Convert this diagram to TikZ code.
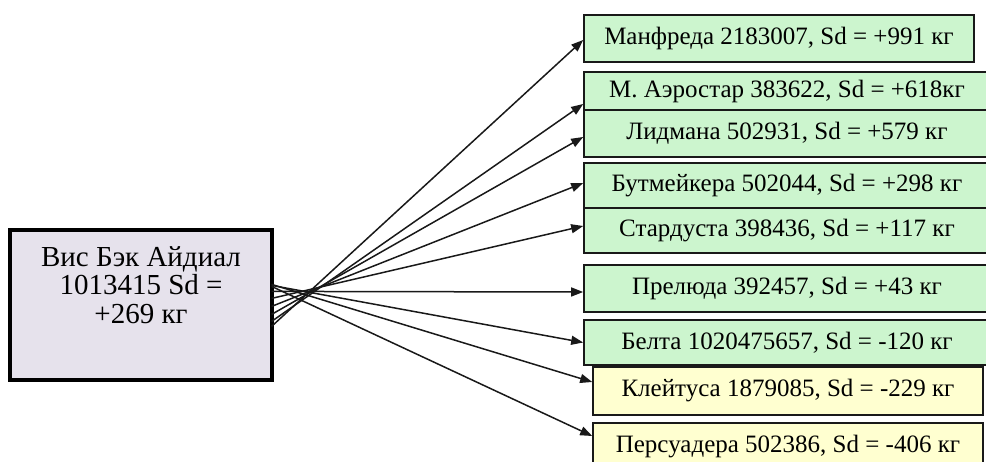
\documentclass[tikz,border=0pt]{standalone}
\usepackage{fontspec}
\setmainfont{Liberation Serif}
\usetikzlibrary{arrows.meta,calc}
\definecolor{gbox}{RGB}{204,245,206}
\definecolor{ybox}{RGB}{255,255,208}
\definecolor{lbox}{RGB}{230,226,236}
\definecolor{edge}{RGB}{25,25,25}
\tikzset{
  rbox/.style={draw=edge, line width=1.6pt, fill=gbox, inner sep=0pt, align=center,
    font=\fontsize{25}{28}\selectfont},
  ybx/.style={rbox, fill=ybox},
  conn/.style={draw=edge, line width=1.5pt, -{Triangle[length=12pt,width=9pt]}}
}
\begin{document}
\begin{tikzpicture}[x=1pt,y=-1pt]
\useasboundingbox (0,0) rectangle (986,462);
\clip (0,0) rectangle (986,462);
% left box
\node[draw=black, line width=3.2pt, fill=lbox, minimum width=262pt, minimum height=150pt, inner sep=0pt] (V) at (141,305) {};
\node[align=center, font=\fontsize{29}{28.5}\selectfont, inner sep=0pt] (Vt) at (141,285) {Вис Бэк Айдиал\\1013415 Sd =\\+269 кг};
% right boxes
\node[rbox, minimum width=390pt, minimum height=47pt] (M) at (779,38.5) {Манфреда 2183007, Sd = +991 кг};
\node[rbox, minimum width=406pt, minimum height=38pt] (A) at (787,91) {М. Аэростар 383622, Sd = +618кг};
\node[rbox, minimum width=406pt, minimum height=47pt] (L) at (787,133.5) {Лидмана 502931, Sd = +579 кг};
\node[rbox, minimum width=406pt, minimum height=45pt] (B) at (787,185.5) {Бутмейкера 502044, Sd = +298 кг};
\node[rbox, minimum width=406pt, minimum height=45pt] (S) at (787,230.5) {Стардуста 398436, Sd = +117 кг};
\node[rbox, minimum width=406pt, minimum height=47pt] (P) at (787,288.5) {Прелюда 392457, Sd = +43 кг};
\node[rbox, minimum width=406pt, minimum height=45pt] (Be) at (787,342.5) {Белта 1020475657, Sd = -120 кг};
\node[ybx, minimum width=390pt, minimum height=48pt] (K) at (788,391) {Клейтуса 1879085, Sd = -229 кг};
\node[ybx, minimum width=390pt, minimum height=47pt] (Pe) at (788,446.5) {Персуадера 502386, Sd = -406 кг};
% start points on the left box
\coordinate (s1) at ($(V.north east)+(-2,98)$);
\coordinate (s2) at ($(V.north east)+(-2,93)$);
\coordinate (s3) at ($(V.north east)+(-2,86)$);
\coordinate (s4) at ($(V.north east)+(-2,78)$);
\coordinate (s5) at ($(V.north east)+(-2,70)$);
\coordinate (s6) at ($(V.north east)+(-2,63)$);
\coordinate (s7) at ($(V.north east)+(-2,57)$);
\coordinate (s8) at ($(V.north east)+(-2,56)$);
\coordinate (s9) at ($(V.north east)+(-2,58)$);
% connectors
\draw[conn] (s1) -- ([yshift=-1.5pt]M.west);
\draw[conn] (s2) -- ([yshift=-13pt]A.west);
\draw[conn] (s3) -- ([yshift=-3.5pt]L.west);
\draw[conn] (s4) -- ([yshift=2.5pt]B.west);
\draw[conn] (s5) -- ([yshift=4.5pt]S.west);
\draw[conn] (s6) -- ([yshift=-3.5pt]P.west);
\draw[conn] (s7) -- (Be.west);
\draw[conn] (s8) -- ([yshift=9pt]K.west);
\draw[conn] (s9) -- ([yshift=10.5pt]Pe.west);
\end{tikzpicture}
\end{document}
